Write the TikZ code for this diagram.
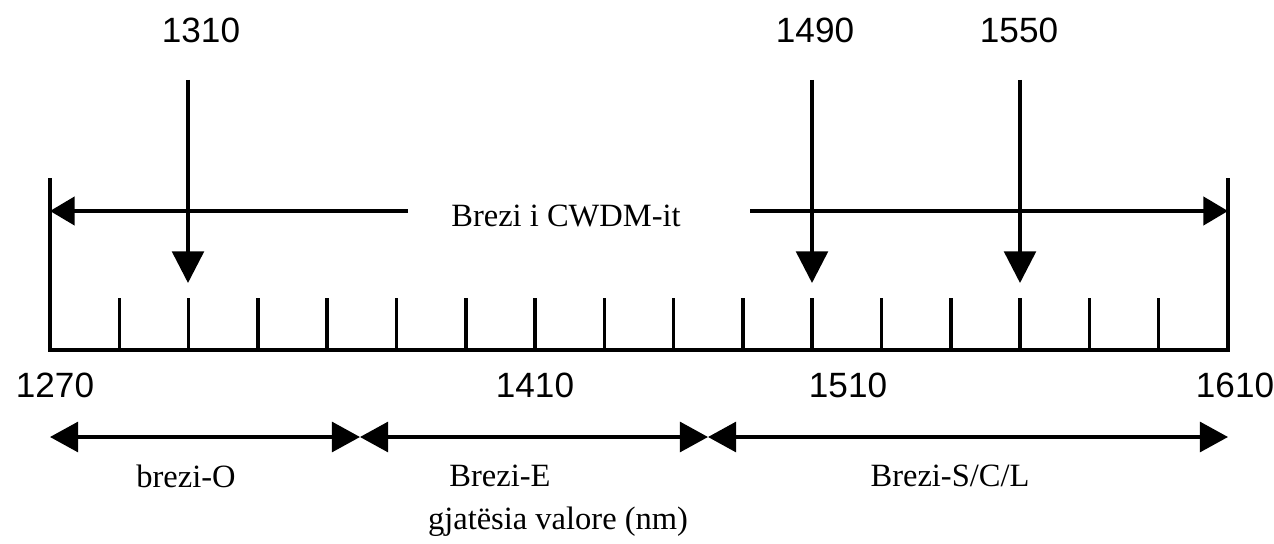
\documentclass[tikz,border=0pt]{standalone}
\usepackage{fontspec}
\setmainfont{Liberation Serif}
\newfontfamily\numfont{Liberation Sans}
\usetikzlibrary{arrows.meta}
\begin{document}
\begin{tikzpicture}[x=0.02cm,y=-0.02cm,
  axis/.style={line width=2.2pt},
  downarrow/.style={line width=2pt,-{Triangle[length=18pt,width=18pt]}},
  rangearrow/.style={line width=2.2pt,-{Triangle[length=14pt,width=16pt]}},
  bandarrow/.style={line width=2pt,{Triangle[length=16pt,width=17pt]}-{Triangle[length=16pt,width=17pt]}},
  numlabel/.style={font=\numfont\fontsize{20}{23}\selectfont,inner sep=0pt},
  txtlabel/.style={font=\fontsize{18.5}{21}\selectfont,inner sep=0pt}]
\useasboundingbox (0,0) rectangle (1274,544);
% axis
\coordinate (L0) at (50,350);
\coordinate (R0) at (1228,350);
\coordinate (Ltop) at (50,178);
\coordinate (Rtop) at (1228,178);
\draw[axis] (Ltop) -- (L0) -- (R0) -- (Rtop);
\foreach \i in {1,...,16}{
  \coordinate (t\i) at ({50+\i*69.294},350);
  \coordinate (tt\i) at ({50+\i*69.294},298);
  \draw[line width=2pt] (t\i) -- (tt\i);
}
% CWDM range
\node[txtlabel] (cwdm) at (566,216) {Brezi i CWDM-it};
\coordinate (cl) at (408,211);
\coordinate (cr) at (750,211);
\coordinate (cle) at (50,211);
\coordinate (cre) at (1228,211);
\draw[rangearrow] (cl) -- (cle);
\draw[rangearrow] (cr) -- (cre);
% wavelength arrows
\node[numlabel] (n1310) at (201,30) {1310};
\node[numlabel] (n1490) at (815,30) {1490};
\node[numlabel] (n1550) at (1019,30) {1550};
\coordinate (a1) at (188,80);  \coordinate (b1) at (188,283);
\coordinate (a2) at (812,80);  \coordinate (b2) at (812,283);
\coordinate (a3) at (1020,80); \coordinate (b3) at (1020,283);
\draw[downarrow] (a1) -- (b1);
\draw[downarrow] (a2) -- (b2);
\draw[downarrow] (a3) -- (b3);
% axis numbers
\node[numlabel] (n1270) at (55,385) {1270};
\node[numlabel] (n1410) at (535,385) {1410};
\node[numlabel] (n1510) at (848,385) {1510};
\node[numlabel] (n1610) at (1235,385) {1610};
% bands
\coordinate (p0) at (50,437);
\coordinate (p1) at (360,437);
\coordinate (p2) at (708,437);
\coordinate (p3) at (1228,437);
\draw[bandarrow] (p0) -- (p1);
\draw[bandarrow] (p1) -- (p2);
\draw[bandarrow] (p2) -- (p3);
\node[txtlabel] (bo) at (186,476) {brezi-O};
\node[txtlabel] (be) at (500,476) {Brezi-E};
\node[txtlabel] (bs) at (950,476) {Brezi-S/C/L};
\node[txtlabel] (gv) at (558,522) {gjatësia valore (nm)};
\end{tikzpicture}
\end{document}
